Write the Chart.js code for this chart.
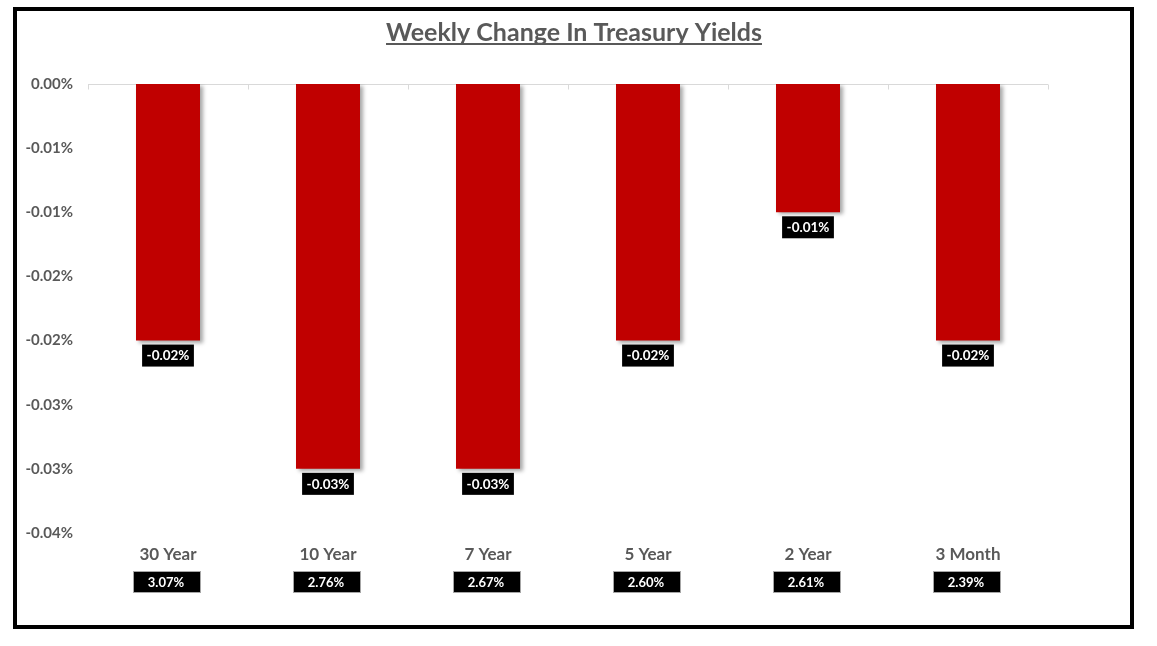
<!DOCTYPE html>
<html>
<head>
<meta charset="utf-8">
<script src="https://cdn.jsdelivr.net/npm/chart.js@4.4.1/dist/chart.umd.min.js"></script>
<style>
  html, body { margin: 0; padding: 0; background: #fff; }
  #wrap { position: relative; width: 1157px; height: 646px; }
  #frame {
    position: absolute; left: 13px; top: 7px; width: 1121px; height: 622px;
    border: 4px solid #000; box-sizing: border-box; pointer-events: none;
  }
  canvas { position: absolute; left: 0; top: 0; }
</style>
</head>
<body>
<div id="wrap">
  <canvas id="yields" width="1157" height="646"></canvas>
  <div id="frame"></div>
</div>
<script>
// ─── Dados ───────────────────────────────────────────────────────────────────
const maturities   = ["30 Year", "10 Year", "7 Year", "5 Year", "2 Year", "3 Month"];
const weeklyChange = [-0.02, -0.03, -0.03, -0.02, -0.01, -0.02];   // em %
const currentYield = ["3.07%", "2.76%", "2.67%", "2.60%", "2.61%", "2.39%"];
const chartTitle   = "Weekly Change In Treasury Yields";

const FONT = "Lato, 'Noto Sans', sans-serif";
const GRAY = "#595959";

// arredonda "para longe do zero", como o Excel
function fmtPct(v) {
  const r = Math.sign(v) * Math.round(Math.abs(v) * 100 + 1e-9) / 100;
  if (r === 0) return "0.00%";
  return r.toFixed(2) + "%";
}

// ─── Plugins ──────────────────────────────────────────────────────────────────

// sombra das barras
const barShadow = {
  id: "barShadow",
  beforeDatasetDraw(chart) {
    const ctx = chart.ctx;
    ctx.save();
    ctx.shadowColor = "rgba(0,0,0,0.35)";
    ctx.shadowBlur = 4;
    ctx.shadowOffsetX = 3;
    ctx.shadowOffsetY = 2;
  },
  afterDatasetDraw(chart) {
    chart.ctx.restore();
  }
};

// linha do zero + marcas entre categorias
const zeroLine = {
  id: "zeroLine",
  beforeDatasetsDraw(chart) {
    const { ctx, scales: { x, y } } = chart;
    const y0 = Math.round(y.getPixelForValue(0)) + 0.5;
    ctx.save();
    ctx.strokeStyle = "#d9d9d9";
    ctx.lineWidth = 1;
    ctx.beginPath();
    ctx.moveTo(x.left, y0);
    ctx.lineTo(x.right, y0);
    const step = (x.right - x.left) / maturities.length;
    for (let i = 0; i <= maturities.length; i++) {
      const px = Math.round(x.left + i * step) + 0.5;
      ctx.moveTo(px, y0);
      ctx.lineTo(px, y0 + 5);
    }
    ctx.stroke();
    ctx.restore();
  }
};

// título sublinhado, rótulos dos valores e caixas de rendimento
const extras = {
  id: "extras",
  afterDraw(chart) {
    const { ctx, scales: { x, y } } = chart;
    ctx.save();

    // título
    ctx.font = "bold 25px " + FONT;
    ctx.fillStyle = GRAY;
    ctx.textAlign = "center";
    ctx.textBaseline = "alphabetic";
    const tx = 574, ty = 41;
    ctx.fillText(chartTitle, tx, ty);
    const tw = ctx.measureText(chartTitle).width;
    ctx.fillRect(tx - tw / 2, ty + 2, tw, 2);

    // rótulos abaixo das barras
    ctx.font = "bold 13.5px " + FONT;
    ctx.textBaseline = "middle";
    weeklyChange.forEach((v, i) => {
      const px = x.getPixelForValue(i);
      const py = y.getPixelForValue(v);
      const label = fmtPct(v);
      const w = ctx.measureText(label).width + 9;
      ctx.fillStyle = "#000";
      ctx.fillRect(px - w / 2, py + 4, w, 22);
      ctx.fillStyle = "#fff";
      ctx.fillText(label, px, py + 15.5);
    });

    // caixas de rendimento atual
    ctx.font = "bold 13px " + FONT;
    currentYield.forEach((t, i) => {
      const px = x.getPixelForValue(i) - 2;
      const bx = Math.round(px - 33.5) + 0.5, by = 571.5;
      ctx.fillStyle = "#000";
      ctx.fillRect(bx, by, 67, 21);
      ctx.strokeStyle = "#a6a6a6";
      ctx.lineWidth = 1;
      ctx.strokeRect(bx, by, 67, 21);
      ctx.fillStyle = "#fff";
      ctx.fillText(t, px, by + 11);
    });

    ctx.restore();
  }
};

// ─── Gráfico ──────────────────────────────────────────────────────────────────

new Chart(document.getElementById("yields"), {
  type: "bar",
  data: {
    labels: maturities,
    datasets: [{
      data: weeklyChange,
      backgroundColor: "#c00000",
      borderWidth: 0,
      categoryPercentage: 1,
      barPercentage: 0.4,
    }]
  },
  options: {
    responsive: false,
    animation: false,
    layout: { padding: { top: 84, right: 109, left: 0, bottom: 0 } },
    plugins: {
      legend: { display: false },
      tooltip: { enabled: false },
    },
    scales: {
      x: {
        grid: { display: false, drawTicks: false },
        border: { display: false },
        ticks: { color: GRAY, font: { family: FONT, size: 17, weight: "bold" }, padding: 11 },
        afterFit(s) { s.height = 113; },
      },
      y: {
        min: -0.035,
        max: 0,
        grid: { display: false, drawTicks: false },
        border: { display: false },
        ticks: {
          stepSize: 0.005,
          color: GRAY,
          font: { family: FONT, size: 15, weight: "bold" },
          padding: 15,
          callback: v => fmtPct(v),
        },
        afterFit(s) { s.width = 88; },
      }
    }
  },
  plugins: [barShadow, zeroLine, extras]
});
</script>
</body>
</html>
